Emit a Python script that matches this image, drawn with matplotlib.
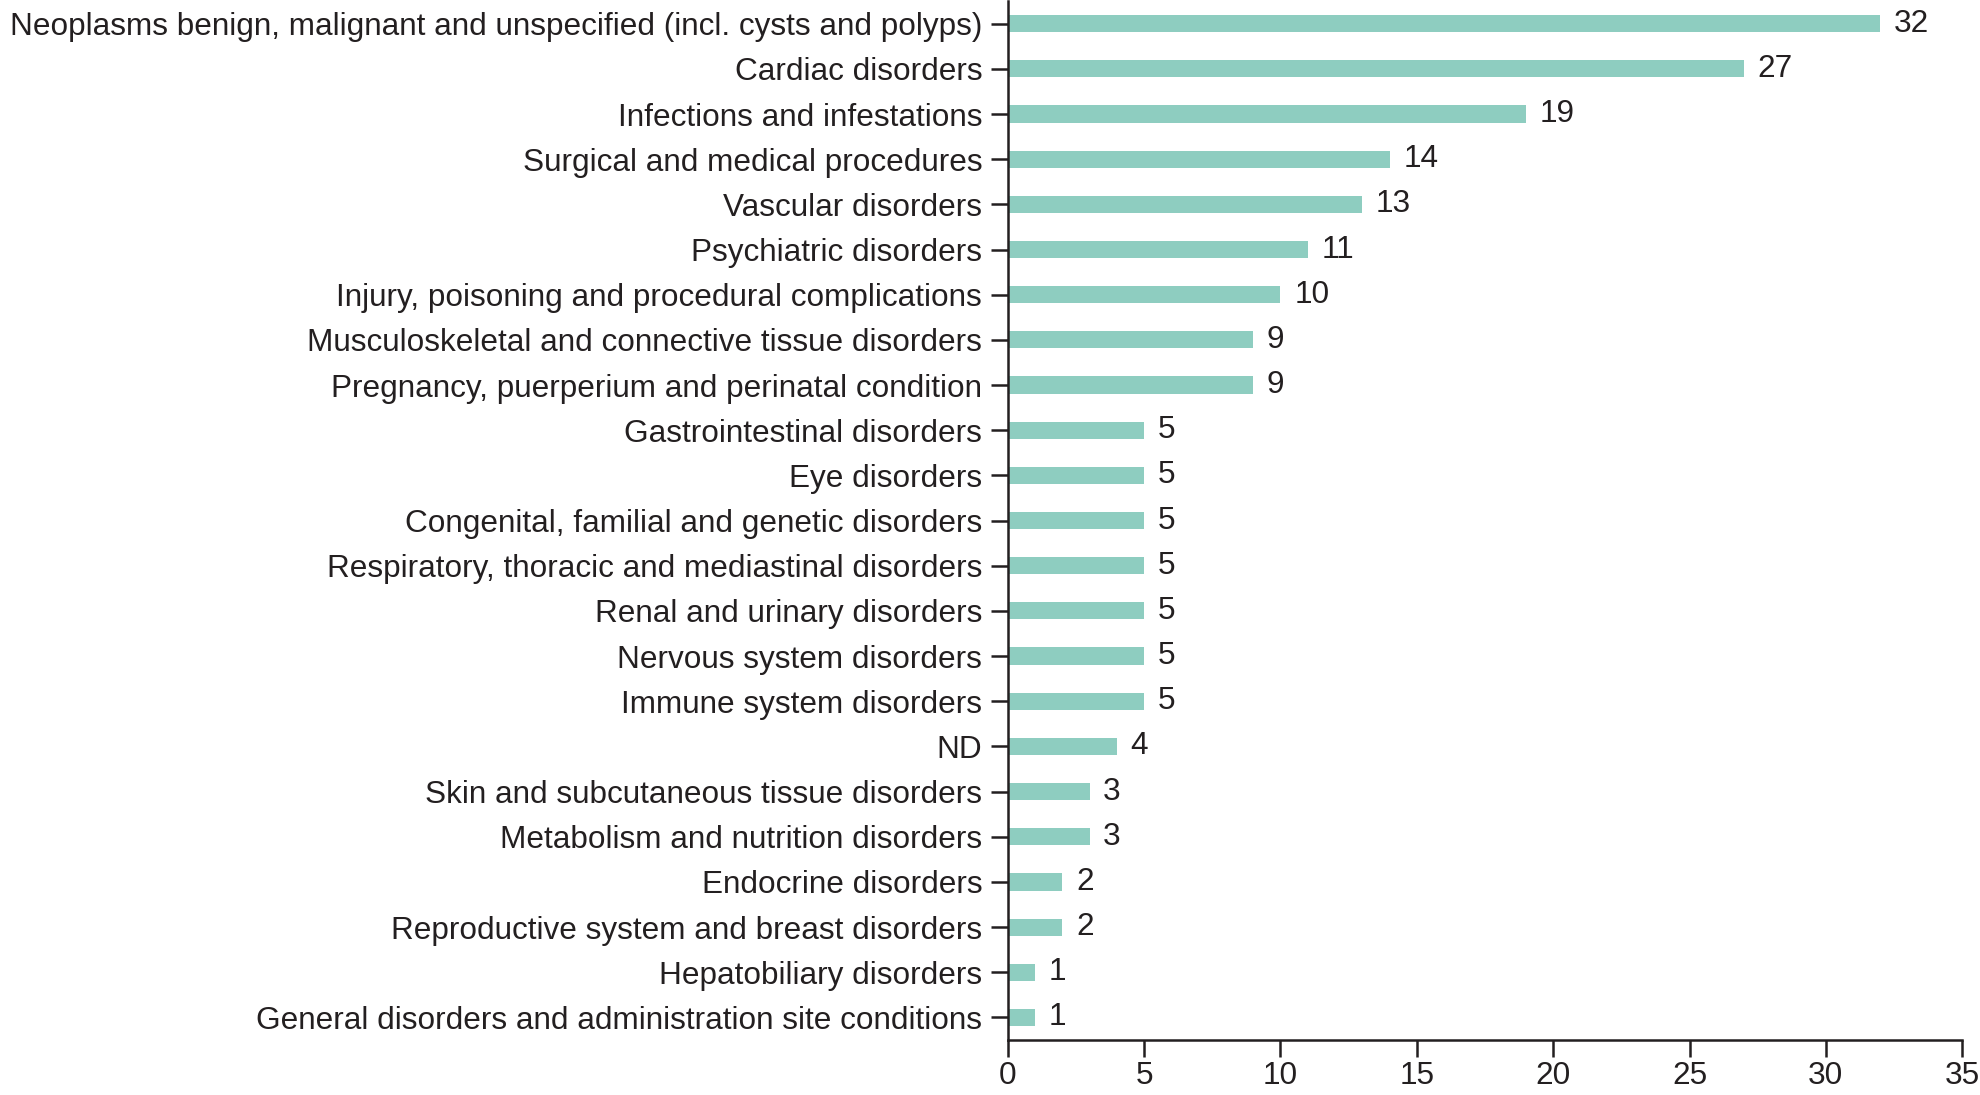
import matplotlib.pyplot as plt

# -------------------- Data --------------------
CATEGORIES = [
    'Neoplasms benign, malignant and unspecified (incl. cysts and polyps)',
    'Cardiac disorders',
    'Infections and infestations',
    'Surgical and medical procedures',
    'Vascular disorders',
    'Psychiatric disorders',
    'Injury, poisoning and procedural complications',
    'Musculoskeletal and connective tissue disorders',
    'Pregnancy, puerperium and perinatal condition',
    'Gastrointestinal disorders',
    'Eye disorders',
    'Congenital, familial and genetic disorders',
    'Respiratory, thoracic and mediastinal disorders',
    'Renal and urinary disorders',
    'Nervous system disorders',
    'Immune system disorders',
    'ND',
    'Skin and subcutaneous tissue disorders',
    'Metabolism and nutrition disorders',
    'Endocrine disorders',
    'Reproductive system and breast disorders',
    'Hepatobiliary disorders',
    'General disorders and administration site conditions',
]
COUNTS = [32, 27, 19, 14, 13, 11, 10, 9, 9, 5, 5, 5, 5, 5, 5, 5, 4, 3, 3, 2, 2, 1, 1]
X_TICKS = [0, 5, 10, 15, 20, 25, 30, 35]

BAR_COLOR = '#8ecdc0'
FONT_SIZE = 22.7

plt.rcParams['font.family'] = ['Liberation Sans', 'DejaVu Sans']

fig = plt.figure(figsize=(19.8, 10.95), dpi=100)
ax = fig.add_axes([0.509, 0.0502, 0.4820, 0.9488])

pos = range(len(CATEGORIES))
ax.barh(pos, COUNTS, height=0.38, color=BAR_COLOR)
for y, v in zip(pos, COUNTS):
    ax.text(v + 0.5, y, str(v), va='center', ha='left', fontsize=FONT_SIZE, color='#231f20')

ax.set_yticks(list(pos))
ax.set_yticklabels(CATEGORIES)
ax.set_ylim(len(CATEGORIES) - 0.5, -0.5)
ax.set_xlim(0, 35)
ax.set_xticks(X_TICKS)

for s in ['top', 'right']:
    ax.spines[s].set_visible(False)
for s in ['left', 'bottom']:
    ax.spines[s].set_linewidth(1.8)
    ax.spines[s].set_color('#231f20')

ax.tick_params(axis='both', labelsize=FONT_SIZE, colors='#231f20', width=1.8, length=12)
ax.tick_params(axis='y', pad=6.5)
ax.tick_params(axis='x', pad=3)

fig.savefig('out.png', dpi=100)
